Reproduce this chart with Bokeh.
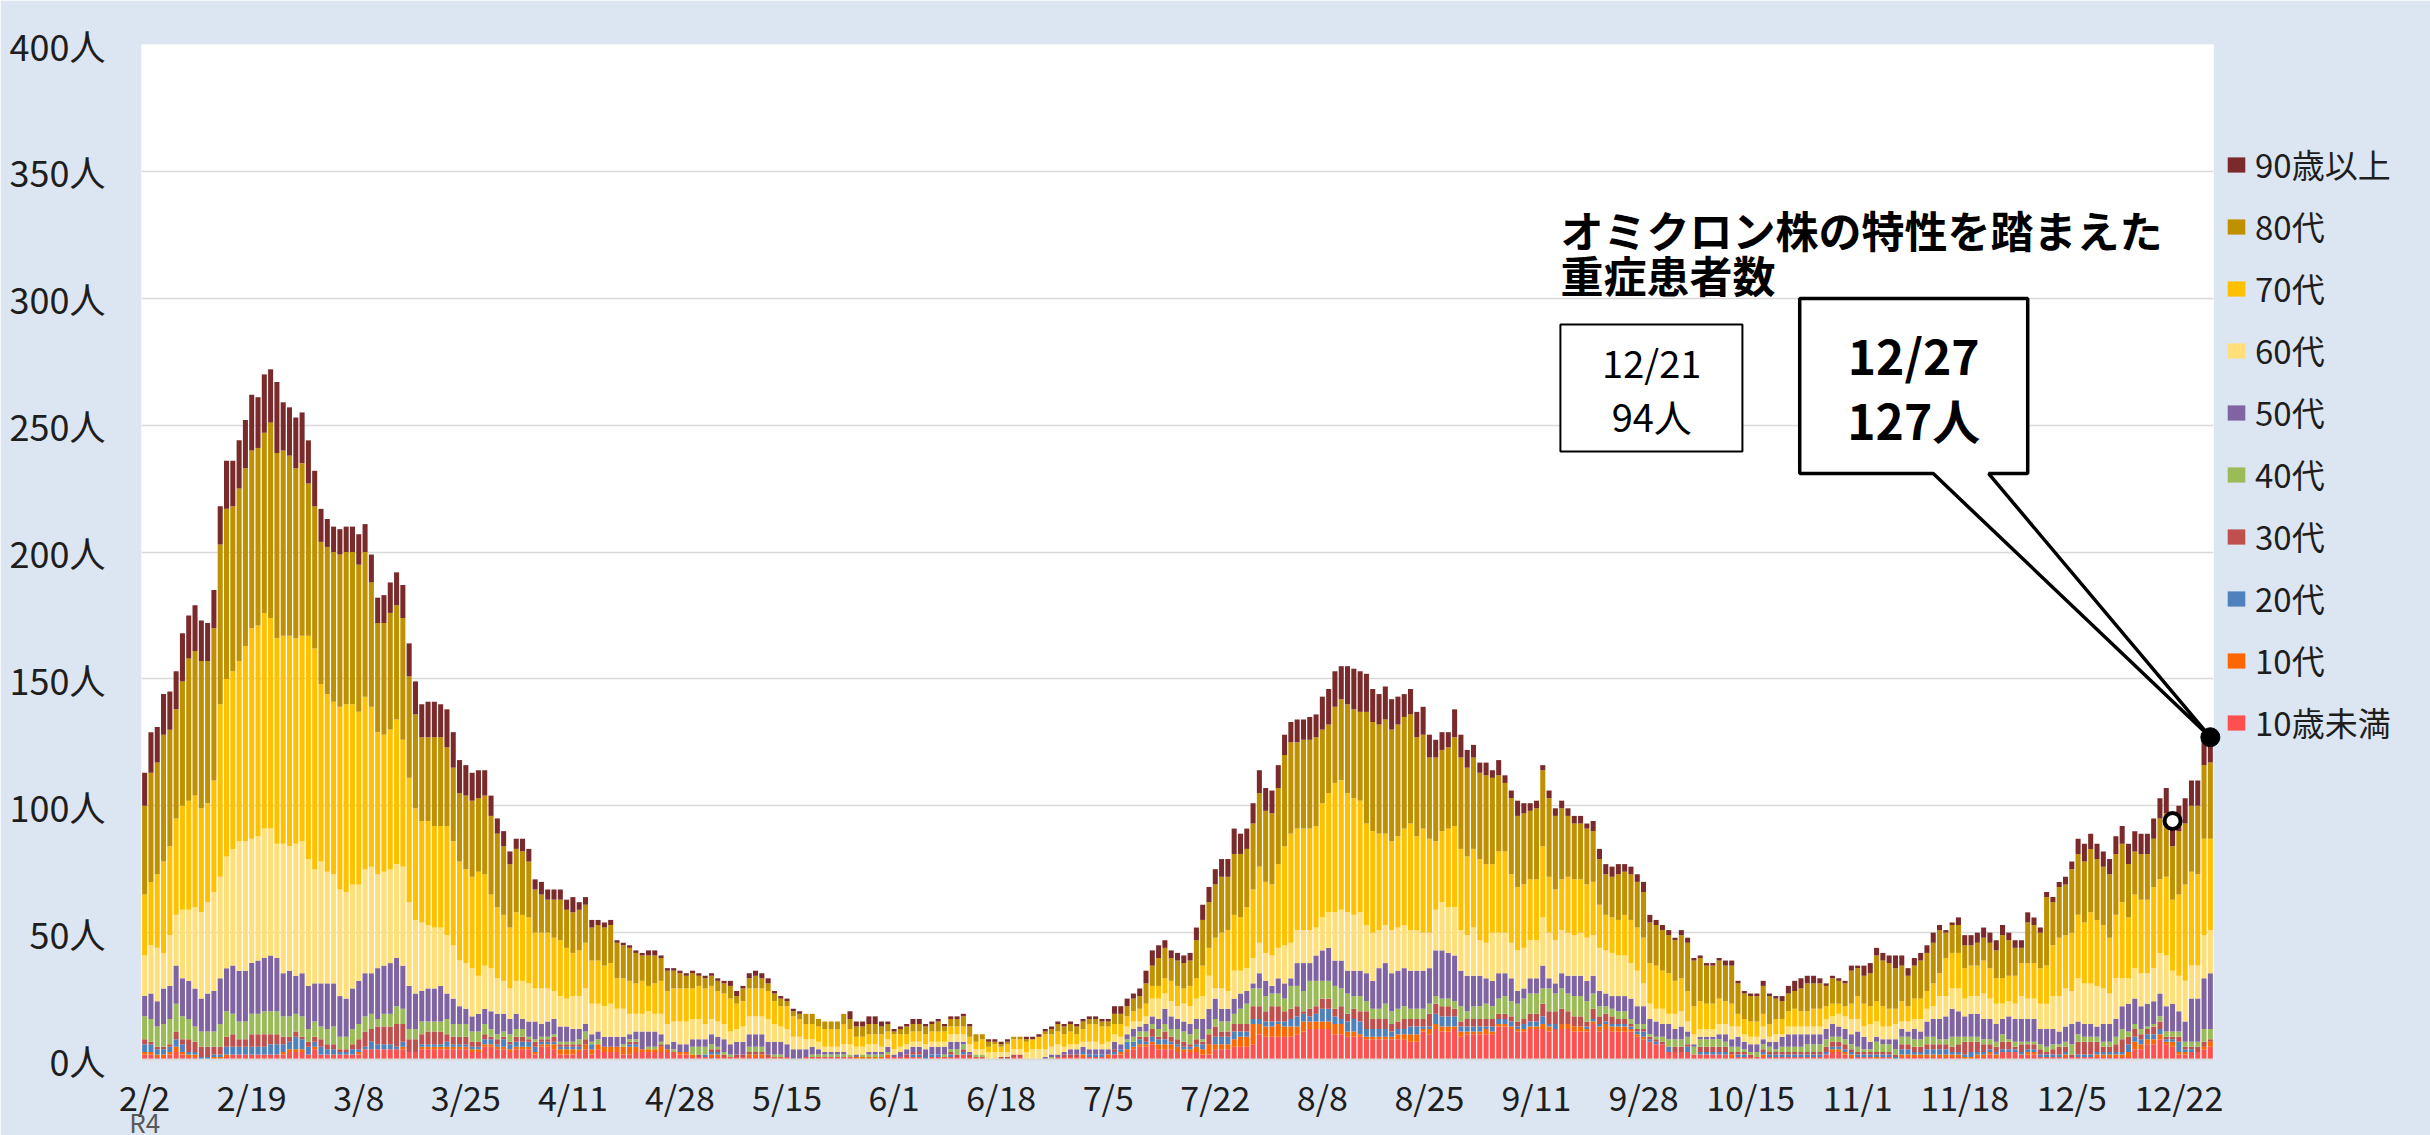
import pandas as pd
from bokeh.plotting import figure
from bokeh.models import (Range1d, FixedTicker, ColumnDataSource, Legend, LegendItem,
                          Label, BoxAnnotation, PolyAnnotation, LinearAxis)
from bokeh.embed import file_html
from bokeh.resources import INLINE

# ---------------- data (daily, 2022/2/2 - 2022/12/27) ----------------
dates = pd.date_range("2022-02-02", "2022-12-27", freq="D")
date_labels = [f"{d.month}/{d.day}" for d in dates]
tick_idx = list(range(0, len(dates), 17))
y_ticks = [0, 50, 100, 150, 200, 250, 300, 350, 400]

age_labels = ["10歳未満", "10代", "20代", "30代", "40代", "50代", "60代", "70代", "80代", "90歳以上"]
age_colors = ["#FF5050", "#FF6600", "#4F81BD", "#C0504D", "#9BBB59", "#8064A2",
              "#FFDF7A", "#FFC000", "#BF9000", "#7A2A2A"]

a90 = [13,16,14,16,15,15,19,17,18,16, 15,15,15,19,18,19,19,22,20,23, 21,28,19,19,20,20,17,14,13,11,
       10,10,10,10,12,11,11,10,11,12, 13,13,13,13,13,14,14,13,15,14, 13,12,11,11,10,8,6,6,5,4,
       5,5,4,5,4,4,4,4,6,3, 3,3,2,2,2,1,1,1,1,1, 2,2,1,1,1,1,1,1,1,1, 1,1,1,2,2,1,2,2,2,2,
       1,1,1,1,1,0,0,0,0,0, 0,0,3,2,2,3,3,2,1,1, 1,1,2,2,1,1,1,1,1,1, 1,1,0,0,1,1,1,1,0,0,
       1,1,1,1,1,1,1,1,1,1, 1,1,1,1,3,3,3,2,3,5, 6,5,3,3,
       3,3,3,5,6,6,6,7,7,10, 8,8,8,9,9,9,9,8,8,9, 8,9,9,13,14,14,13,15,16,16,
       15,13,12,13,12,11,9,10,10,11, 9,7,7,6,11,9,7,5,4,5, 3,6,3,3,
       6,4,3,3,2,3,3,3,3,3, 3,2,4,4,4,4,4,3,3,3, 4,3,2,2,2,1,2,2,1,1, 1,1,1,2,2,1,1,1,1,2,
       1,1,2,3,4,4,3,3,2,1, 1,1,1,2,1,
       4,4,3,3,3,5,4,3,3,3, 3,4,2,1,1,3,4,4,4,4, 4,4,4,3,3,3,4,3,2,2, 2,2,3,3,6,7,6,6,6,6,
       7,7,8,8,8,8,8,8,10,10, 10,10,10,10,10,10]
a80 = [35,43,44,50,46,43,49,56,57,58, 56,60,63,67,65,68,70,70,70,71, 77,73,73,71,67,68,60,56,56,58,
       59,60,60,60,58,57,49,43,44,46, 45,48,40,37,33,33,35,35,31,29, 27,29,30,29,31,31,29,27,25,25,
       25,22,17,15,13,15,16,15,16,16, 15,13,14,15,15,14,13,13,12,10, 12,11,9,8,7,6,5,6,4,4, 4,4,4,5,3,5,4,5,4,3,
       3,3,2,2,2,4,4,3,3,3, 3,4,4,4,4,4,4,3,3,1, 2,3,3,3,3,3,4,2,3,3, 4,4,3,2,2,1,1,1,1,1,
       1,0,0,1,2,3,3,3,3,3, 2,2,2,2,4,4,4,5,5,8, 8,11,12,9,
       10,10,10,15,18,18,21,22,21,24, 25,23,26,29,28,28,30,36,36,34, 35,35,35,29,27,30,32,35,35,35,
       44,43,43,45,44,44,44,43,39,37, 32,33,32,32,35,36,35,36,34,35, 34,30,27,30,
       28,28,27,28,30,31,29,28,24,22, 22,22,20,18,16,16,18,17,18,18, 18,16,16,16,15,16,17,19,18,17,
       15,15,15,14,15,12,10,10,10,11, 11,8,7,7,7,9,11,10,10,8, 10,9,9,13,11,
       11,13,18,18,18,16,14,12,13,15, 15,16,17,10,11,11,9,8,9,9, 10,11,17,14,11,6,16,15,14,27,
       17,20,20,25,24,24,25,24,23,25, 24,23,21,17,18,18,19,24,25,21, 25,24,26,27,29,30]
a70 = [24,25,29,36,35,38,41,43,44,41, 39,44,68,70,70,71,77,83,83,85, 83,81,82,83,81,81,88,87,70,70,
       68,72,74,71,68,68,63,56,54,55, 57,50,49,44,40,41,40,40,43,41, 39,37,36,41,36,29,28,26,24,27,
       26,26,22,22,22,21,22,20,17,18, 18,17,17,16,16,12,12,13,12,13, 10,12,13,13,13,13,13,12,13,14, 13,12,12,13,10,10,11,11,11,11,
       9,8,9,8,7,6,6,6,7,7, 7,8,6,4,4,4,4,5,3,6, 5,4,4,4,4,4,4,4,3,3, 3,3,3,4,2,3,2,3,4,4,
       4,4,5,6,5,5,5,5,4,5, 7,7,7,6,4,5,4,4,5,5, 5,5,6,8,
       8,6,8,8,12,11,20,22,24,22, 21,24,27,30,28,28,33,39,43,40, 40,40,40,45,47,51,51,47,46,44,
       40,40,38,36,35,36,38,42,37,41, 37,27,28,31,32,32,31,31,32,31, 27,32,32,27,
       25,25,24,24,28,22,20,20,22,22, 21,21,21,17,14,14,14,16,17,17, 18,16,17,15,16,13,13,12,11,11,
       10,10,10,9,9,5,6,6,6,5, 5,6,6,6,7,6,6,7,7,5, 5,4,4,6,9,
       9,7,8,8,7,6,8,6,8,8, 7,9,9,15,14,14,12,12,12,13, 12,10,10,10,11,13,14,14,14,15,
       20,23,21,23,25,24,28,26,25,22, 25,30,24,29,29,29,32,29,31,28, 32,38,37,36,38,36]
a60 = [16,19,21,14,20,20,27,28,32,34, 36,39,40,44,46,51,51,49,49,51, 50,45,51,49,52,52,50,45,48,44,
       43,42,42,41,38,41,42,37,37,37, 37,39,33,29,27,25,24,23,23,21, 18,18,19,15,17,17,14,13,12,13,
       15,15,13,14,13,11,12,11,13,13, 14,12,11,12,13,11,11,8,7,7, 8,7,8,8,8,9,9,8,8,6, 6,6,6,5,5,6,7,7,7,9,
       7,6,6,5,5,4,3,3,2,2, 2,3,4,3,3,3,3,2,3,2, 2,2,2,2,2,2,2,2,3,3, 3,3,2,2,3,3,2,2,2,2,
       3,4,4,3,3,4,2,2,2,2, 3,3,2,3,3,3,3,3,2,3, 7,8,6,6,
       5,7,7,8,9,13,4,8,7,11, 9,9,10,12,11,12,12,15,14,13, 13,13,11,13,14,19,20,23,22,23,
       19,19,15,15,17,17,17,16,16,15, 14,16,19,18,19,16,16,19,14,14, 19,16,16,14,
       16,16,15,15,19,18,17,17,17,16, 17,17,16,17,17,17,16,16,14,14, 9,6,5,6,4,6,6,4,4,3,
       3,3,4,4,5,4,3,3,3,5, 2,3,1,3,3,3,3,3,3,4, 3,5,5,6,5,
       4,7,6,5,5,6,3,4,4,5, 5,5,9,8,8,9,7,7,7,10, 8,8,6,6,6,9,8,8,10,10,
       13,14,15,13,17,16,16,16,14,12, 16,11,10,12,13,12,13,16,20,13, 14,16,13,13,17,17]
a50 = [8,10,10,14,13,15,15,15,15,13, 15,16,18,17,19,20,20,20,21,21, 22,21,17,18,15,17,17,15,17,18,
       17,16,15,16,17,17,16,20,19,20, 19,17,17,14,12,13,13,14,10,10, 7,6,6,7,6,7,8,7,6,6,
       4,6,7,5,6,6,6,6,5,4, 3,3,3,4,4,4,3,2,3,7, 6,6,3,2,3,3,3,3,3,3, 4,4,5,4,5,5,5,5,5,5,
       5,5,5,4,4,3,3,2,1,1, 1,1,0,1,0,1,1,1,2,1, 2,2,2,2,3,3,3,3,3,3, 1,1,0,0,0,0,0,0,0,0,
       0,0,0,1,1,1,1,2,2,2, 2,2,2,2,3,2,2,3,2,3, 3,4,6,5,
       4,4,4,4,8,8,8,5,5,6, 6,5,2,6,6,3,6,6,3,9, 11,7,10,12,13,10,11,9,10,10,
       11,11,16,16,15,15,15,15,15,15, 14,18,19,18,18,14,14,12,12,10, 10,10,9,9,
       5,4,6,6,9,4,4,6,7,8, 8,8,7,6,5,5,6,6,8,7, 7,6,6,5,6,4,5,2,1,1,
       1,1,2,3,3,4,3,3,3,2, 2,3,4,5,5,5,4,4,4,4, 5,4,4,4,6,
       5,3,2,2,2,4,3,2,4,3, 6,7,8,9,11,10,8,9,9,8, 8,7,6,9,9,9,9,9,6,7,
       6,5,6,8,5,5,5,4,7,7, 7,9,11,10,9,9,9,9,10,11, 8,8,17,17,20,22]
a40 = [9,9,8,9,10,11,9,8,6,6, 6,6,9,10,8,7,7,8,8,9, 9,9,8,8,7,8,5,6,5,6,
       7,5,5,6,6,6,6,3,5,5, 7,6,4,4,5,4,4,4,6,5, 5,5,4,4,4,3,2,2,3,3,
       3,1,1,1,1,1,1,1,1,2, 3,1,2,0,0,0,1,1,1,0, 1,1,1,0,1,0,0,3,3,3, 2,1,1,1,0,0,2,2,2,0,
       1,1,0,0,0,0,1,1,1,1, 1,1,1,0,1,1,1,1,1,0, 0,0,0,0,0,0,0,1,1,2, 2,0,1,1,0,0,0,0,0,0,
       0,0,0,0,1,0,0,0,0,0, 0,0,0,0,0,0,1,2,2,2, 2,3,3,3,
       4,4,4,4,1,2,3,4,4,4, 6,8,7,7,6,5,5,5,9,8, 8,11,10,7,7,9,7,8,5,6,
       4,4,4,6,5,5,5,4,4,4, 4,3,3,3,3,6,3,5,5,6, 5,6,7,6,
       7,8,8,8,6,9,7,8,7,8, 8,8,6,4,3,3,3,3,2,2, 2,1,1,2,3,3,3,3,3,3,
       3,3,3,2,2,2,1,1,2,2, 2,1,2,2,2,2,3,3,3,3, 2,2,2,2,2,
       1,1,4,3,3,2,3,3,3,3, 3,3,2,2,4,3,2,2,2,2, 2,2,3,1,2,1,1,1,2,2,
       2,1,2,4,3,2,2,2,2,2, 3,4,2,2,2,1,1,2,2,2, 2,2,2,2,5,4]
a30 = [2,1,1,1,1,3,2,5,4,4, 4,3,3,4,5,3,3,5,5,5, 4,4,3,2,2,1,2,2,3,2,
       2,1,1,2,4,6,5,7,7,7, 9,7,5,5,4,5,5,5,3,3, 3,3,2,2,2,1,2,1,1,2,
       2,1,2,1,1,2,1,1,1,1, 2,0,0,0,0,0,0,1,1,0, 0,0,1,0,0,0,0,0,1,0, 1,1,1,0,1,1,1,1,1,1,
       0,0,0,0,0,0,0,0,0,0, 0,0,0,0,0,0,0,0,0,0, 0,1,1,1,0,0,0,0,1,1, 1,1,0,0,0,0,1,1,1,1,
       0,0,0,0,0,0,1,1,1,0, 0,0,0,0,1,0,0,0,1,2, 3,1,3,2,
       2,2,1,2,1,4,4,2,2,3, 3,3,5,5,4,6,6,4,4,4, 1,3,3,4,4,3,5,3,4,4,
       7,4,4,4,3,3,4,3,3,3, 5,4,4,4,3,2,3,3,3,3, 3,2,2,2,
       2,2,3,3,5,5,5,6,5,4, 4,2,4,3,3,3,2,2,1,1, 1,1,1,1,0,2,2,1,0,2,
       2,2,2,2,1,1,1,1,0,1, 1,1,1,1,1,1,1,1,1,2, 2,2,2,1,1,
       1,1,1,1,1,1,2,2,2,2, 2,2,2,2,2,3,5,4,4,3, 2,2,3,3,1,3,2,2,2,1,
       2,3,2,1,5,5,5,4,2,2, 3,5,3,3,2,2,3,3,1,1, 2,1,1,2,2,1]
a20 = [3,3,2,2,2,3,3,1,1,1, 1,1,1,3,3,3,3,3,3,3, 4,4,3,3,5,4,3,2,3,2,
       2,1,1,2,1,1,3,2,2,2, 1,2,0,0,1,1,1,1,2,1, 1,1,1,1,2,2,1,3,2,2,
       2,2,2,1,1,1,1,1,1,1, 0,2,0,0,0,0,0,1,1,0, 0,0,0,0,0,0,0,0,0,1, 1,1,0,0,0,0,0,0,0,0,
       0,0,0,0,0,0,0,0,0,0, 0,0,0,0,0,0,0,0,0,0, 0,0,1,1,1,1,1,0,1,0, 1,0,0,0,0,0,0,0,0,0,
       0,0,0,0,0,0,0,0,0,1, 1,1,1,0,1,1,3,2,2,1, 2,2,2,1,
       1,1,1,1,2,0,3,3,3,3, 2,2,2,2,2,2,1,2,3,4, 3,2,3,5,5,3,2,4,5,5,
       3,3,3,3,2,2,2,3,3,1, 1,4,4,4,4,2,2,2,2,1, 2,2,2,2,
       1,2,2,2,3,1,2,0,0,0, 0,1,1,1,1,1,1,1,1,1, 2,1,1,0,2,0,0,2,0,1,
       1,1,1,1,0,1,1,0,0,1, 1,1,1,1,1,1,1,1,1,1, 1,1,1,1,1,
       1,1,1,1,1,1,2,2,1,1, 2,2,2,2,1,1,1,2,1,1, 1,1,1,1,1,1,1,1,1,1,
       1,1,1,0,1,1,1,1,1,1, 1,1,3,2,2,2,2,2,1,1, 4,1,1,0,0,0]
a10 = [1,1,1,1,1,2,1,1,1,0, 0,1,1,1,0,0,0,0,0,0, 0,0,1,1,1,1,0,1,0,0,
       0,0,0,0,1,0,0,0,0,0, 0,1,0,0,1,1,1,1,1,1, 1,1,1,1,1,1,1,1,1,1,
       1,1,1,1,1,2,2,2,2,1, 2,2,2,2,2,2,3,3,2,1, 1,1,2,1,0,1,1,1,0,0, 1,1,0,0,0,0,1,1,1,0,
       0,0,0,0,0,0,0,0,0,0, 0,0,0,1,1,1,1,1,1,0, 0,0,0,0,0,0,0,0,0,0, 0,0,0,0,0,0,0,0,0,0,
       0,0,0,0,0,0,0,0,0,1, 0,0,0,1,0,1,1,1,1,1, 1,2,2,2,
       2,1,1,2,2,4,2,2,2,3, 4,4,8,4,4,4,5,4,4,3, 4,3,3,3,3,4,4,2,2,1,
       1,1,1,1,1,2,2,3,3,1, 2,2,2,2,1,2,1,1,1,2, 1,1,1,1,
       1,1,1,1,2,2,0,2,2,2, 2,1,1,2,2,2,2,2,1,1, 1,0,0,0,0,0,0,0,0,0,
       0,0,0,0,1,0,0,0,0,1, 0,0,0,0,0,0,0,0,0,0, 1,1,1,1,0,
       0,0,1,0,0,0,1,1,1,1, 1,1,1,1,1,1,1,1,1,1, 1,1,0,0,0,0,1,1,0,0,
       0,0,1,0,0,0,0,1,1,1, 1,1,2,3,2,2,2,2,1,2, 1,1,0,0,1,2]
u10 = [2,2,1,1,2,3,2,1,1,0, 0,0,0,1,2,2,2,2,2,2, 2,2,2,3,3,3,2,4,2,2,
       2,2,2,2,2,4,4,4,4,4, 4,4,3,3,4,4,4,4,4,4, 4,4,3,3,5,5,4,4,3,4,
       4,4,2,5,5,4,2,2,2,3, 4,2,4,3,3,3,2,2,3,3, 3,3,3,3,3,2,2,1,1,1, 1,1,1,1,1,1,1,1,1,1,
       1,1,1,0,0,1,1,1,1,1, 1,1,1,0,0,0,0,0,1,1, 1,1,1,1,0,1,1,1,1,1, 2,1,1,1,0,0,0,0,1,1,
       0,0,0,0,0,1,1,1,1,1, 1,1,1,1,2,2,3,4,5,5, 6,4,4,4,
       3,3,3,3,2,2,4,4,4,5, 5,5,6,10,9,9,9,9,9,10, 11,12,12,12,12,10,10,9,9,9,
       8,8,8,8,8,8,8,7,7,11, 10,12,11,11,12,9,10,10,10,10, 10,13,13,12,
       11,11,12,12,12,11,12,12,12,11, 11,11,14,11,12,11,11,11,11,9, 8,7,6,6,3,3,3,3,2,2,
       2,2,2,2,1,1,1,1,1,1, 1,1,1,1,1,1,1,1,1,2, 3,3,2,1,1,
       1,1,0,1,1,0,1,1,1,1, 1,1,1,1,1,1,0,0,1,1, 2,1,3,3,3,2,2,2,1,1,
       1,1,1,1,1,1,1,1,1,1, 1,1,1,4,4,6,6,8,6,5, 2,2,3,3,4,5]

series = [u10, a10, a20, a30, a40, a50, a60, a70, a80, a90]
keys = ["u10", "a10", "a20", "a30", "a40", "a50", "a60", "a70", "a80", "a90"]
n = len(dates)
for k, s in zip(keys, series):
    if len(s) != n:
        raise ValueError(f"{k} has {len(s)} values, expected {n}")
totals = [sum(v) for v in zip(*series)]

data = {"x": list(range(n)), "date": date_labels}
for k, s in zip(keys, series):
    data[k] = s
source = ColumnDataSource(data)

# ---------------- figure ----------------
FONT = "Noto Sans CJK JP"
p = figure(frame_width=2072, frame_height=1015,
           x_range=Range1d(-0.5, n - 0.5), y_range=Range1d(0, 400),
           output_backend="svg", toolbar_location=None,
           min_border_left=141, min_border_right=215, min_border_top=44, min_border_bottom=76,
           background_fill_color="white", border_fill_color="#DCE6F2",
           outline_line_color=None)

renderers = p.vbar_stack(keys, x="x", width=0.8, source=source,
                         fill_color=age_colors, line_color=None)

# axes
p.xaxis.ticker = FixedTicker(ticks=tick_idx)
p.xaxis.major_label_overrides = {i: date_labels[i] for i in tick_idx}
p.yaxis.ticker = FixedTicker(ticks=y_ticks)
p.yaxis.major_label_overrides = {v: f"{v}人" for v in y_ticks}
for ax in (p.xaxis[0], p.yaxis[0]):
    ax.major_tick_in = 0
    ax.major_tick_out = 0
    ax.minor_tick_in = 0
    ax.minor_tick_out = 0
    ax.major_label_text_font = FONT
    ax.major_label_text_color = "#1E1E1E"
p.xaxis.major_label_text_font_size = "34px"
p.yaxis.major_label_text_font_size = "36px"
p.yaxis.axis_line_color = None
p.yaxis.major_label_standoff = 36
p.xaxis.axis_line_color = "#D9D9D9"
p.xaxis.axis_line_width = 2
p.xaxis.major_label_standoff = 12
p.xgrid.grid_line_color = None
p.ygrid.grid_line_color = "#D9D9D9"
p.ygrid.grid_line_width = 1.5

# era mark under the first date
r4_axis = LinearAxis(ticker=FixedTicker(ticks=[0]), major_label_overrides={0: "R4"},
                     axis_line_color=None, major_tick_in=0, major_tick_out=0,
                     minor_tick_in=0, minor_tick_out=0,
                     major_label_text_font=FONT, major_label_text_font_size="26px",
                     major_label_text_color="#595959", major_label_standoff=-21)
p.add_layout(r4_axis, "below")

# legend (right panel)
items = [LegendItem(label=age_labels[i], renderers=[renderers[i]]) for i in reversed(range(10))]
legend = Legend(items=items, location=(12, 313), orientation="vertical",
                background_fill_alpha=0, border_line_color=None,
                padding=0, margin=0, spacing=14,
                glyph_width=22, glyph_height=19, label_height=34, label_standoff=8,
                label_text_font=FONT, label_text_font_size="33px", label_text_color="#1E1E1E")
p.add_layout(legend, "right")

# annotation title
p.add_layout(Label(x=224.8, y=327.1, text="オミクロン株の特性を踏まえた", text_font=FONT,
                   text_font_size="43px", text_font_style="bold", text_color="black",
                   text_align="left", text_baseline="middle"))
p.add_layout(Label(x=224.8, y=309.4, text="重症患者数", text_font=FONT,
                   text_font_size="43px", text_font_style="bold", text_color="black",
                   text_align="left", text_baseline="middle"))

# 12/21 box
i_prev = 322
p.add_layout(BoxAnnotation(left=224.8, right=253.7, bottom=239.6, top=289.7,
                           fill_color="white", fill_alpha=1, line_color="black",
                           line_alpha=1, line_width=2))
p.add_layout(Label(x=239.3, y=275.1, text=date_labels[i_prev], text_font=FONT,
                   text_font_size="38px", text_color="black", text_align="center", text_baseline="middle"))
p.add_layout(Label(x=239.3, y=253.8, text=f"{totals[i_prev]}人", text_font=FONT,
                   text_font_size="38px", text_color="black", text_align="center", text_baseline="middle"))

# 12/27 callout
i_last = n - 1
tip_x, tip_y = i_last, totals[i_last]
p.add_layout(PolyAnnotation(xs=[262.8, 299.0, 299.0, 292.8, tip_x, 284.0, 262.8],
                            ys=[299.9, 299.9, 230.9, 230.9, tip_y, 230.9, 230.9],
                            fill_color="white", fill_alpha=1, line_color="black",
                            line_alpha=1, line_width=3.5))
p.add_layout(Label(x=280.9, y=278.2, text=date_labels[i_last], text_font=FONT,
                   text_font_size="48px", text_font_style="bold", text_color="black",
                   text_align="center", text_baseline="middle"))
p.add_layout(Label(x=280.9, y=252.6, text=f"{totals[i_last]}人", text_font=FONT,
                   text_font_size="48px", text_font_style="bold", text_color="black",
                   text_align="center", text_baseline="middle"))

# markers
m1 = p.scatter(x=[i_prev], y=[totals[i_prev]], size=16, fill_color="white",
               line_color="black", line_width=4)
m2 = p.scatter(x=[tip_x], y=[tip_y], size=19, fill_color="black", line_color="black")
m1.level = "overlay"
m2.level = "overlay"

open("out.html", "w").write(file_html(p, INLINE))
